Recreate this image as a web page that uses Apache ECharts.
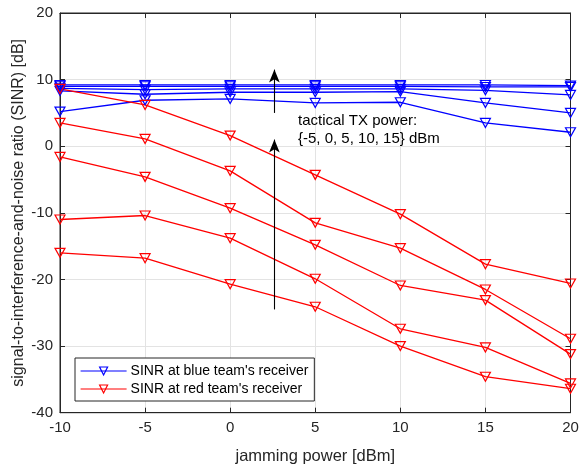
<!DOCTYPE html>
<html>
<head>
<meta charset="utf-8">
<script src="https://cdn.jsdelivr.net/npm/echarts@6/dist/echarts.min.js"></script>
<style>html,body{margin:0;padding:0;background:#fff;}#c{width:579px;height:470px;}</style>
</head>
<body>
<div id="c"></div>
<script>
// jamming power [dBm]
const jammingPower = [-10, -5, 0, 5, 10, 15, 20];
const xTicks = [-10, -5, 0, 5, 10, 15, 20];
const yTicks = [-40, -30, -20, -10, 0, 10, 20];

// SINR at blue team's receiver, one list per tactical TX power
const blueTxMinus5 = [5.2, 6.9, 7.1, 6.5, 6.6, 3.5, 2.1];
const blueTx0      = [8.3, 7.8, 8.1, 8.1, 8.2, 6.5, 5.0];
const blueTx5      = [8.7, 8.5, 8.6, 8.6, 8.6, 8.4, 7.7];
const blueTx10     = [9.0, 9.0, 9.0, 9.0, 9.0, 8.9, 8.9];
const blueTx15     = [9.2, 9.2, 9.2, 9.2, 9.2, 9.2, 9.1];

// SINR at red team's receiver
const redTx15     = [8.6, 6.2, 1.6, -4.3, -10.2, -17.7, -20.6];
const redTx10     = [3.5, 1.1, -3.7, -11.5, -15.3, -21.5, -28.9];
const redTx5      = [-1.6, -4.6, -9.3, -14.8, -20.9, -23.1, -31.2];
const redTx0      = [-11.0, -10.4, -13.8, -19.9, -27.4, -30.2, -35.6];
const redTxMinus5 = [-16.0, -16.8, -20.7, -24.1, -30.0, -34.6, -36.4];

// annotation arrows (data coordinates): [x, yStart, yEnd]
const arrowUpper = [2.6, 5.0, 11.5];
const arrowLower = [2.6, -24.5, 1.0];
const annotationLines = ["tactical TX power:", "{-5, 0, 5, 10, 15} dBm"];

const blueName = "SINR at blue team's receiver";
const redName = "SINR at red team's receiver";

const FONT = 'Liberation Sans, Arial, sans-serif';
const AX = '#262626';

function mkSeries(name, color, vals) {
  return {
    name: name,
    type: 'line',
    data: jammingPower.map((x, i) => [x, vals[i]]),
    symbol: 'triangle',
    symbolRotate: 180,
    symbolSize: [10, 9],
    showAllSymbol: true,
    lineStyle: { color: color, width: 1.3 },
    itemStyle: { color: 'rgba(255,255,255,0)', borderColor: color, borderWidth: 1.2 },
    emphasis: { disabled: true },
    animation: false,
    z: 3
  };
}

const arrowStyle = { color: '#000', width: 1.1, type: 'solid' };
const series = [
  mkSeries(blueName, '#0000ff', blueTxMinus5),
  mkSeries(blueName, '#0000ff', blueTx0),
  mkSeries(blueName, '#0000ff', blueTx5),
  mkSeries(blueName, '#0000ff', blueTx10),
  mkSeries(blueName, '#0000ff', blueTx15),
  mkSeries(redName, '#ff0000', redTx15),
  mkSeries(redName, '#ff0000', redTx10),
  mkSeries(redName, '#ff0000', redTx5),
  mkSeries(redName, '#ff0000', redTx0),
  mkSeries(redName, '#ff0000', redTxMinus5),
  {
    name: 'arrows',
    type: 'line',
    data: [],
    silent: true,
    animation: false,
    markLine: {
      silent: true,
      animation: false,
      symbol: ['none', 'arrow'],
      symbolSize: [8, 13],
      label: { show: false },
      lineStyle: arrowStyle,
      emphasis: { disabled: true },
      data: [
        [{ coord: [arrowUpper[0], arrowUpper[1]] }, { coord: [arrowUpper[0], arrowUpper[2]] }],
        [{ coord: [arrowLower[0], arrowLower[1]] }, { coord: [arrowLower[0], arrowLower[2]] }]
      ]
    }
  }
];

const chart = echarts.init(document.getElementById('c'), null, { renderer: 'canvas' });
chart.setOption({
  backgroundColor: '#fff',
  animation: false,
  textStyle: { fontFamily: FONT },
  grid: { left: 60, right: 8.5, top: 13, bottom: 57.3, containLabel: false, outerBoundsMode: 'none',
    show: true, borderColor: AX, borderWidth: 1, backgroundColor: 'transparent' },
  legend: {
    data: [blueName, redName],
    orient: 'vertical',
    left: 75,
    top: 358,
    backgroundColor: '#fff',
    borderColor: AX,
    borderWidth: 1,
    borderRadius: 0,
    padding: [6, 6, 5, 5],
    itemWidth: 46,
    itemHeight: 10,
    itemGap: 4,
    symbolRotate: 'inherit',
    lineStyle: { width: 1.2 },
    itemStyle: { borderWidth: 1.2 },
    textStyle: { fontFamily: FONT, fontSize: 14, color: '#000', padding: [0, 0, 0, -1] },
    selectedMode: false
  },
  xAxis: [{
    type: 'value', min: -10, max: 20, interval: 5,
    name: 'jamming power [dBm]', nameLocation: 'middle', nameGap: 35, nameMoveOverlap: false,
    nameTextStyle: { fontFamily: FONT, fontSize: 16.5, color: AX },
    axisLine: { show: true, onZero: false, lineStyle: { color: AX, width: 1 } },
    axisTick: { show: true, inside: true, length: 5, lineStyle: { color: AX } },
    axisLabel: { fontFamily: FONT, fontSize: 15, color: AX, margin: 8,
      customValues: xTicks },
    splitLine: { show: true, lineStyle: { color: '#e3e3e3', width: 1 } }
  }, {
    type: 'value', min: -10, max: 20, interval: 5, position: 'top',
    axisLine: { show: true, onZero: false, lineStyle: { color: AX } },
    axisTick: { show: true, inside: true, length: 5, lineStyle: { color: AX } },
    axisLabel: { show: false }, splitLine: { show: false }
  }],
  yAxis: [{
    type: 'value', min: -40, max: 20, interval: 10,
    name: 'signal-to-interference-and-noise ratio (SINR) [dB]', nameLocation: 'middle', nameGap: 33, nameMoveOverlap: false,
    nameTextStyle: { fontFamily: FONT, fontSize: 16, color: AX },
    axisLine: { show: true, onZero: false, lineStyle: { color: AX, width: 1 } },
    axisTick: { show: true, inside: true, length: 5, lineStyle: { color: AX } },
    axisLabel: { fontFamily: FONT, fontSize: 15, color: AX, margin: 7,
      customValues: yTicks },
    splitLine: { show: true, lineStyle: { color: '#e3e3e3', width: 1 } }
  }, {
    type: 'value', min: -40, max: 20, interval: 10, position: 'right',
    axisLine: { show: true, onZero: false, lineStyle: { color: AX } },
    axisTick: { show: true, inside: true, length: 5, lineStyle: { color: AX } },
    axisLabel: { show: false }, splitLine: { show: false }
  }],
  graphic: [{
    type: 'text', left: 298, top: 112, z: 10,
    style: { text: annotationLines.join('\n'), font: '15px ' + FONT, fill: '#000', lineHeight: 18 }
  }],
  series: series
});
</script>
</body>
</html>
